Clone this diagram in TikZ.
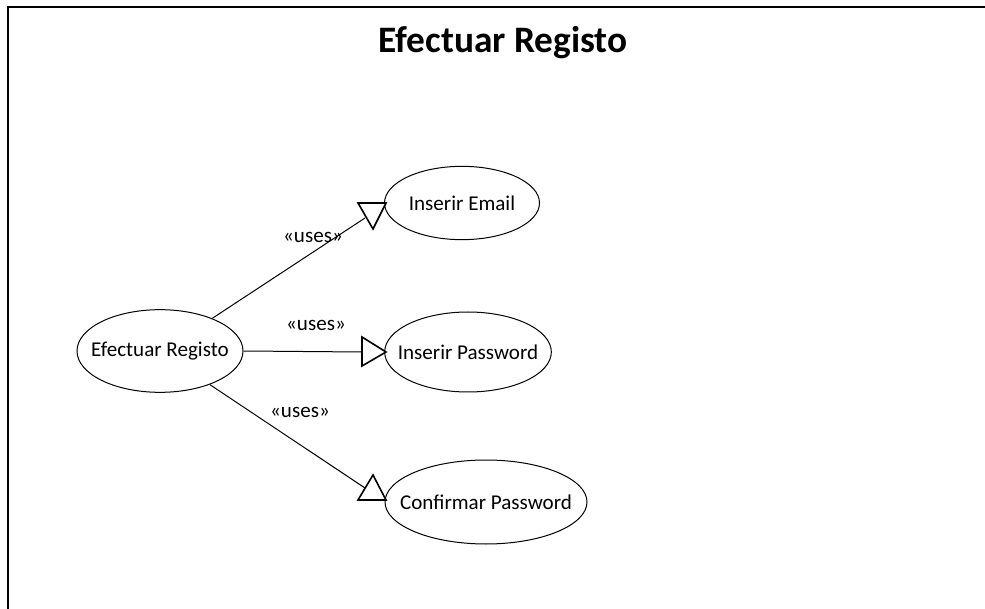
\documentclass[tikz,border=0pt]{standalone}
\usepackage{fontspec}
\setmainfont{Carlito}
\usetikzlibrary{shapes.geometric}
\begin{document}
\begin{tikzpicture}[x=0.75pt,y=-0.75pt,
  txt/.style={font=\fontsize{15.8}{18}\selectfont,inner sep=0pt},
  usecase/.style={draw,ellipse,line width=0.75pt,inner sep=0pt},
  conn/.style={line width=0.75pt},
  genhead/.style={draw,line width=1.2pt,fill=white,line join=miter},
  lbl/.style={txt},
  frame/.style={line width=1.6pt}]
\useasboundingbox (0,0) rectangle (985,609);
\draw[frame] (8,612) -- (8,7) -- (990,7);
\node[font=\bfseries\fontsize{28}{32}\selectfont,inner sep=0pt] (title) at (503,43) {Efectuar Registo};

\node[usecase,minimum width=124.5pt,minimum height=62pt,label={[txt]center:Efectuar Registo}] (er) at (160,351) {};
\node[usecase,minimum width=116.25pt,minimum height=55pt,label={[txt]center:Inserir Email}] (ie) at (462,203) {};
\node[usecase,minimum width=125pt,minimum height=60pt,label={[txt]center:Inserir Password}] (ip) at (468,352) {};
\node[usecase,minimum width=151.5pt,minimum height=63pt,label={[txt]center:Confirmar Password}] (cp) at (486,502) {};

% arrowhead tips
\coordinate (eA) at (365,218);
\coordinate (pA) at (362,352);
\coordinate (cA) at (365,488);

\draw[conn] (er.32) -- (eA);
\draw[conn] (er.east) -- (pA);
\draw[conn] (er.-34) -- (cA);

\draw[genhead] (358,203) -- (386,203) -- (373,229) -- cycle;
\draw[genhead] (362,337) -- (386,352) -- (362,366) -- cycle;
\draw[genhead] (358,500) -- (386,500) -- (373,475) -- cycle;

\node[lbl] (l1) at (313,237) {«uses»};
\node[lbl] (l2) at (316,325) {«uses»};
\node[lbl] (l3) at (300,412) {«uses»};
\end{tikzpicture}
\end{document}
